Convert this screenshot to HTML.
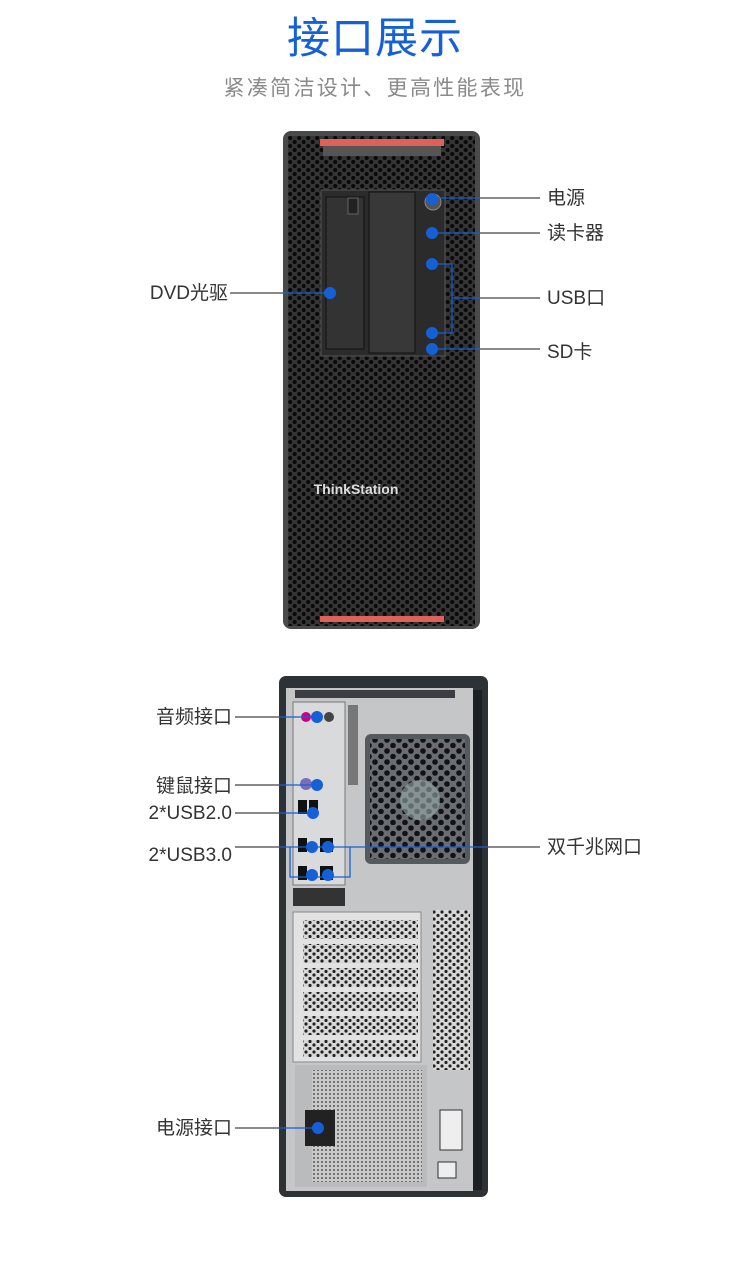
<!DOCTYPE html>
<html><head><meta charset="utf-8"><style>
body{margin:0;width:750px;height:1270px;background:#fff;position:relative;overflow:hidden;font-family:"Liberation Sans","Noto Sans CJK SC",sans-serif}
.t{position:absolute;white-space:nowrap;color:#333;font-size:19px;line-height:1}
</style></head><body>
<div class="t" style="left:0;width:750px;text-align:center;top:18px;font-size:43px;color:#1560d6;letter-spacing:1px">接口展示</div>
<div class="t" style="left:0;width:750px;text-align:center;top:78px;font-size:21px;color:#8a8a8a;letter-spacing:2.3px">紧凑简洁设计、更高性能表现</div>

<svg width="750" height="1270" style="position:absolute;left:0;top:0">
<defs>
<pattern id="hx" width="9" height="8" patternUnits="userSpaceOnUse">
<rect width="9" height="8" fill="#353535"/><circle cx="2.2" cy="2" r="2.1" fill="#0a0a0a"/><circle cx="6.7" cy="6" r="2.1" fill="#0a0a0a"/></pattern>
<pattern id="hb" width="12" height="11" patternUnits="userSpaceOnUse">
<rect width="12" height="11" fill="#6a6e72"/><circle cx="3" cy="3" r="2.8" fill="#101215"/><circle cx="9" cy="8.5" r="2.8" fill="#101215"/></pattern>
<pattern id="hs" width="8" height="7" patternUnits="userSpaceOnUse">
<rect width="8" height="7" fill="#d8d8d8"/><circle cx="2" cy="2" r="1.6" fill="#222"/><circle cx="6" cy="5.5" r="1.6" fill="#222"/></pattern>
<pattern id="ms" width="4" height="4" patternUnits="userSpaceOnUse">
<rect width="4" height="4" fill="#c9c9c9"/><circle cx="2" cy="2" r="1" fill="#555"/></pattern>
</defs>
<rect x="283" y="131" width="197" height="498" rx="8" fill="#4a4a4a"/>
<rect x="288" y="136" width="187" height="490" fill="url(#hx)"/>
<rect x="320" y="139" width="124" height="7" fill="#e0605a"/>
<rect x="323" y="146" width="118" height="10" fill="#555"/>
<rect x="320" y="616" width="124" height="6" fill="#e0605a"/>
<rect x="321" y="190" width="124" height="166" fill="#2b2b2b" stroke="#555"/>
<rect x="326" y="197" width="38" height="152" fill="#333" stroke="#111"/>
<rect x="348" y="198" width="10" height="16" fill="#222" stroke="#666"/>
<rect x="369" y="192" width="46" height="161" fill="#383838" stroke="#111"/>
<circle cx="433" cy="202" r="8" fill="#555" stroke="#888"/>
<text x="356" y="494" text-anchor="middle" fill="#ddd" font-size="14" font-family="Liberation Sans,sans-serif" font-weight="bold">ThinkStation</text>
<g stroke="#1560d6" stroke-width="1.3" fill="none">
<line x1="432" y1="198" x2="480" y2="198"/><line x1="432" y1="233" x2="480" y2="233"/>
<polyline points="432,264 452,264 452,333 432,333"/><line x1="452" y1="298" x2="480" y2="298"/>
<line x1="432" y1="349" x2="480" y2="349"/><line x1="283" y1="293" x2="330" y2="293"/>
</g>
<g stroke="#444" stroke-width="1.2">
<line x1="480" y1="198" x2="540" y2="198"/><line x1="480" y1="233" x2="540" y2="233"/>
<line x1="480" y1="298" x2="540" y2="298"/><line x1="480" y1="349" x2="540" y2="349"/>
<line x1="230" y1="293" x2="283" y2="293"/>
</g>
<g fill="#1560d6"><circle cx="432" cy="199" r="6"/><circle cx="432" cy="233" r="6"/><circle cx="432" cy="264" r="6"/><circle cx="432" cy="333" r="6"/><circle cx="432" cy="349" r="6"/><circle cx="330" cy="293" r="6"/></g>

<rect x="279" y="676" width="209" height="521" rx="7" fill="#2d3236"/>
<rect x="286" y="688" width="187" height="503" fill="#c4c6c8"/>
<rect x="473" y="690" width="9" height="500" fill="#1c2024"/>
<rect x="295" y="690" width="160" height="8" fill="#3a3e42"/>
<rect x="293" y="702" width="52" height="183" fill="#d9dadb" stroke="#777"/>
<rect x="348" y="705" width="10" height="80" fill="#777"/>
<rect x="365" y="734" width="105" height="130" rx="6" fill="#555a5e"/>
<rect x="370" y="739" width="95" height="120" fill="url(#hb)"/>
<circle cx="420" cy="800" r="20" fill="#9aa" opacity=".6"/>
<rect x="293" y="888" width="52" height="18" fill="#333"/>
<rect x="293" y="912" width="128" height="150" fill="#e2e2e2" stroke="#888"/>
<g fill="url(#hs)"><rect x="303" y="920" width="115" height="19"/><rect x="303" y="944" width="115" height="19"/><rect x="303" y="968" width="115" height="19"/><rect x="303" y="992" width="115" height="19"/><rect x="303" y="1016" width="115" height="19"/><rect x="303" y="1040" width="115" height="17"/></g>
<rect x="433" y="910" width="37" height="160" fill="url(#hs)"/>
<rect x="295" y="1065" width="132" height="122" fill="#b9bbbd"/>
<rect x="312" y="1070" width="110" height="112" fill="url(#ms)"/>
<rect x="305" y="1110" width="30" height="36" fill="#222"/>
<rect x="440" y="1110" width="22" height="40" fill="#eee" stroke="#333"/>
<rect x="438" y="1162" width="18" height="16" fill="#eee" stroke="#333"/>
<g fill="#111"><rect x="298" y="800" width="9" height="14"/><rect x="309" y="800" width="9" height="14"/><rect x="298" y="838" width="9" height="14"/><rect x="320" y="838" width="13" height="14"/><rect x="298" y="866" width="9" height="14"/><rect x="320" y="866" width="13" height="14"/></g>
<circle cx="306" cy="784" r="6" fill="#7a6db8"/><circle cx="306" cy="717" r="5" fill="#c08"/><circle cx="329" cy="717" r="5" fill="#444"/>
<g stroke="#1560d6" stroke-width="1.3" fill="none">
<line x1="279" y1="717" x2="317" y2="717"/><line x1="279" y1="785" x2="317" y2="785"/><line x1="279" y1="813" x2="313" y2="813"/>
<line x1="279" y1="847" x2="330" y2="847"/><line x1="330" y1="847" x2="488" y2="847"/>
<polyline points="290,847 290,877 350,877 350,847"/>
<line x1="279" y1="1128" x2="318" y2="1128"/>
</g>
<g stroke="#444" stroke-width="1.2">
<line x1="235" y1="717" x2="279" y2="717"/><line x1="235" y1="785" x2="279" y2="785"/><line x1="235" y1="813" x2="279" y2="813"/>
<line x1="235" y1="847" x2="279" y2="847"/><line x1="488" y1="847" x2="540" y2="847"/><line x1="235" y1="1128" x2="279" y2="1128"/>
</g>
<g fill="#1560d6"><circle cx="317" cy="717" r="6"/><circle cx="317" cy="785" r="6"/><circle cx="313" cy="813" r="6"/><circle cx="312" cy="847" r="6"/><circle cx="328" cy="847" r="6"/><circle cx="312" cy="875" r="6"/><circle cx="328" cy="875" r="6"/><circle cx="318" cy="1128" r="6"/></g>
</svg>

<div class="t" style="left:547px;top:189px">电源</div>
<div class="t" style="left:547px;top:224px">读卡器</div>
<div class="t" style="left:547px;top:289px">USB口</div>
<div class="t" style="left:547px;top:343px">SD卡</div>
<div class="t" style="right:522px;top:284px">DVD光驱</div>
<div class="t" style="right:518px;top:708px">音频接口</div>
<div class="t" style="right:518px;top:777px">键鼠接口</div>
<div class="t" style="right:518px;top:804px">2*USB2.0</div>
<div class="t" style="right:518px;top:846px">2*USB3.0</div>
<div class="t" style="left:547px;top:838px">双千兆网口</div>
<div class="t" style="right:518px;top:1119px">电源接口</div>
</body></html>
